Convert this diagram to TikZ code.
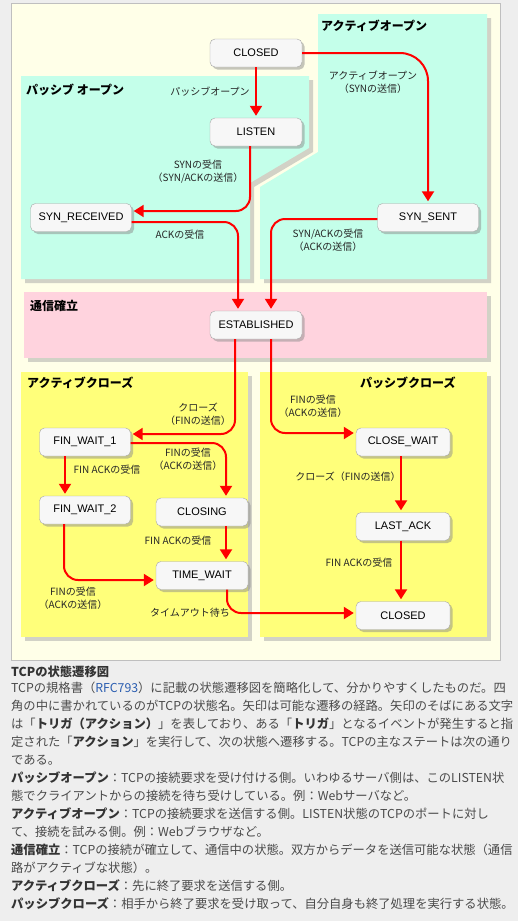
\documentclass[tikz,border=0pt]{standalone}
\usepackage{fontspec}
\setmainfont{Liberation Sans}
\newfontfamily\jp{Noto Sans CJK JP}
\usepackage{xcolor}
\usetikzlibrary{arrows.meta, shadows}

\definecolor{pagebg}{HTML}{EEEEEE}
\definecolor{panelbg}{HTML}{FFFFE8}
\definecolor{openbg}{HTML}{C4FFEA}
\definecolor{estbg}{HTML}{FFD3DE}
\definecolor{closebg}{HTML}{FFFF7A}
\definecolor{statebg}{HTML}{F7F7F7}
\definecolor{captext}{HTML}{4A4A4A}
\definecolor{capbold}{HTML}{333333}
\definecolor{rfcblue}{HTML}{2A5DB0}

\begin{document}
\begin{tikzpicture}[x=1pt, y=-1pt,
  state/.style={rectangle, draw=black!35, fill=statebg, rounded corners=5pt,
    minimum width=92pt, minimum height=28pt, font=\fontsize{11}{13}\selectfont,
    drop shadow={shadow xshift=2.5pt, shadow yshift=-2.5pt, fill=black!45, opacity=.5}},
  region/.style={drop shadow={shadow xshift=4pt, shadow yshift=-4pt, fill=black!35, opacity=.5}},
  regtitle/.style={anchor=west, inner sep=0pt, font=\jp\bfseries\fontsize{12}{14}\selectfont},
  lbl/.style={align=center, inner sep=0pt, text=black!85, font=\jp\fontsize{10}{13}\selectfont},
  arr/.style={draw=red, line width=2pt, rounded corners=14pt,
    -{Triangle[length=10pt, width=12pt]}, shorten >=2pt}]
  \useasboundingbox (0,0) rectangle (518,921);
  \fill[pagebg] (0,0) rectangle (518,921);
  \filldraw[fill=panelbg, draw=black!25] (11.5,3.5) rectangle (500.5,660.5);
  % Regions
  \fill[openbg, region] (21,76) -- (309,76) -- (309,148) -- (250,183) -- (250,279) -- (21,279) -- cycle;
  \fill[openbg, region] (318,14) -- (487,14) -- (487,279) -- (260,279) -- (260,187) -- (318,152) -- cycle;
  \fill[estbg, region] (24,292) rectangle (487,358);
  \fill[closebg, region] (21,372) rectangle (248,637);
  \fill[closebg, region] (260,372) rectangle (487,637);
  \node[regtitle] (tact) at (321,26) {アクティブオープン};
  \node[regtitle] (tpas) at (26,90) {パッシブ オープン};
  \node[regtitle] (test) at (30,306) {通信確立};
  \node[regtitle] (tacl) at (27,383) {アクティブクローズ};
  \node[regtitle] (tpcl) at (360,383) {パッシブクローズ};
  % States
  \node[state] (closedtop) at (256,53) {CLOSED};
  \node[state] (listen) at (256,132) {LISTEN};
  \node[state, minimum width=101pt] (synrcvd) at (81,217.5) {SYN\_RECEIVED};
  \node[state, minimum width=101pt] (synsent) at (428,217.5) {SYN\_SENT};
  \node[state] (estab) at (256,325) {ESTABLISHED};
  \node[state, minimum width=91pt] (finwaita) at (85,442) {FIN\_WAIT\_1};
  \node[state, minimum width=91pt] (finwaitb) at (85,510) {FIN\_WAIT\_2};
  \node[state] (closing) at (202,512) {CLOSING};
  \node[state] (timewait) at (202,575.5) {TIME\_WAIT};
  \node[state, minimum width=94pt] (closewait) at (403,442) {CLOSE\_WAIT};
  \node[state, minimum width=94pt] (lastack) at (403,526.5) {LAST\_ACK};
  \node[state, minimum width=94pt] (closedend) at (403,615.5) {CLOSED};
  % Transitions
  \draw[arr] (closedtop) -- (listen);
  \draw[arr, rounded corners=28pt] (closedtop.east) -| (synsent.north);
  \draw[arr] ([xshift=-6pt]listen.south) |- ([yshift=6.5pt]synrcvd.east);
  \draw[arr] ([yshift=-4.5pt]synrcvd.east) -| ([xshift=-18pt]estab.north);
  \draw[arr] ([yshift=-1.5pt]synsent.west) -| ([xshift=15pt]estab.north);
  \draw[arr] ([xshift=-21pt]estab.south) |- ([yshift=8pt]finwaita.east);
  \draw[arr] ([xshift=15pt]estab.south) |- ([yshift=9pt]closewait.west);
  \draw[arr] ([xshift=-20pt]finwaita.south) -- ([xshift=-20pt]finwaitb.north);
  \draw[arr] ([yshift=-1pt]finwaita.east) -| ([xshift=24pt]closing.north);
  \draw[arr] ([xshift=24pt]closing.south) -- ([xshift=24pt]timewait.north);
  \draw[arr] ([xshift=-21pt]finwaitb.south) |- ([yshift=-4.5pt]timewait.west);
  \draw[arr] ([xshift=25pt]timewait.south) |- ([yshift=2.5pt]closedend.west);
  \draw[arr] ([xshift=-2pt]closewait.south) -- ([xshift=-2pt]lastack.north);
  \draw[arr] ([xshift=-2pt]lastack.south) -- ([xshift=-2pt]closedend.north);
  % Labels
  \node[lbl] (lpopen) at (210,92) {パッシブオープン};
  \node[lbl] (laopen) at (373,82.5) {アクティブオープン\\（SYNの送信）};
  \node[lbl] (lsyn) at (198,172) {SYNの受信\\（SYN/ACKの送信）};
  \node[lbl] (lack) at (180,235) {ACKの受信};
  \node[lbl] (lsynack) at (328,240.5) {SYN/ACKの受信\\（ACKの送信）};
  \node[lbl] (lclose) at (198,414) {クローズ\\（FINの送信）};
  \node[lbl] (lfinest) at (313,406) {FINの受信\\（ACKの送信）};
  \node[lbl] (lfinacka) at (107,470) {FIN ACKの受信};
  \node[lbl] (lfinfw) at (188,459.5) {FINの受信\\（ACKの送信）};
  \node[lbl] (lfinackb) at (178,541) {FIN ACKの受信};
  \node[lbl] (lfinfwb) at (73,598) {FINの受信\\（ACKの送信）};
  \node[lbl] (ltimeout) at (190,613) {タイムアウト待ち};
  \node[lbl] (lclosefin) at (348,477) {クローズ（FINの送信）};
  \node[lbl] (lfinackc) at (359,563) {FIN ACKの受信};
  % Caption
  \node[anchor=west, inner sep=0pt, text=capbold, font=\jp\bfseries\fontsize{12.3}{18}\selectfont]
    (captitle) at (11,672) {TCPの状態遷移図};
  \node[anchor=north west, align=left, inner sep=0pt, text=captext,
    font=\jp\fontsize{12.3}{18}\selectfont] (captext) at (11,682) {%
    TCPの規格書（\textcolor{rfcblue}{RFC793}）に記載の状態遷移図を簡略化して、分かりやすくしたものだ。四\\
    角の中に書かれているのがTCPの状態名。矢印は可能な遷移の経路。矢印のそばにある文字\\
    は「\textcolor{capbold}{\bfseries トリガ（アクション）}」を表しており、ある「\textcolor{capbold}{\bfseries トリガ}」となるイベントが発生すると指\\
    定された「\textcolor{capbold}{\bfseries アクション}」を実行して、次の状態へ遷移する。TCPの主なステートは次の通り\\
    である。\\
    \textcolor{capbold}{\bfseries パッシブオープン}：TCPの接続要求を受け付ける側。いわゆるサーバ側は、このLISTEN状\\
    態でクライアントからの接続を待ち受けしている。例：Webサーバなど。\\
    \textcolor{capbold}{\bfseries アクティブオープン}：TCPの接続要求を送信する側。LISTEN状態のTCPのポートに対し\\
    て、接続を試みる側。例：Webブラウザなど。\\
    \textcolor{capbold}{\bfseries 通信確立}：TCPの接続が確立して、通信中の状態。双方からデータを送信可能な状態（通信\\
    路がアクティブな状態）。\\
    \textcolor{capbold}{\bfseries アクティブクローズ}：先に終了要求を送信する側。\\
    \textcolor{capbold}{\bfseries パッシブクローズ}：相手から終了要求を受け取って、自分自身も終了処理を実行する状態。};
\end{tikzpicture}
\end{document}
